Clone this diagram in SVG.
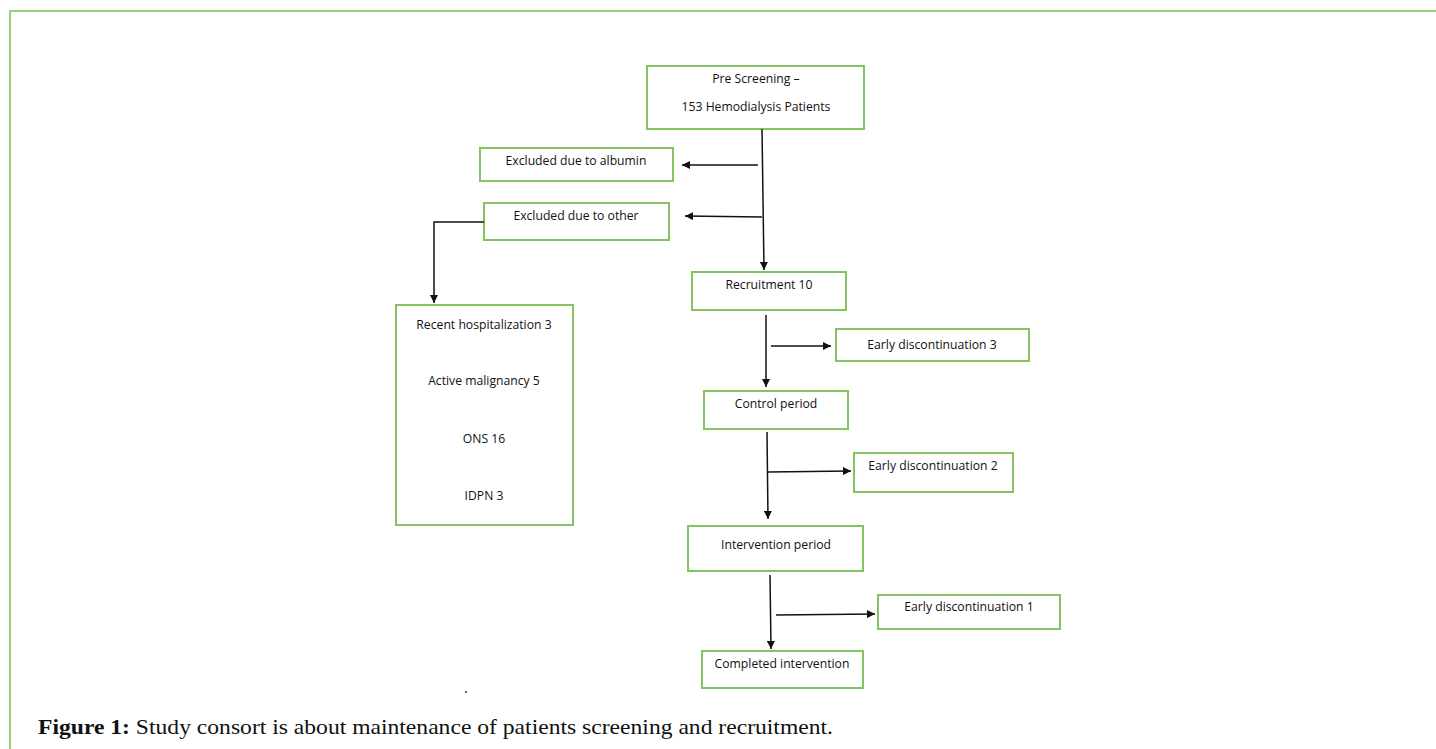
<svg xmlns="http://www.w3.org/2000/svg" width="1436" height="749" viewBox="0 0 1436 749">
<style>
.box{fill:#fff;stroke:#84c262;stroke-width:2}
.t{font-family:"Open Sans","Liberation Sans",sans-serif;font-size:12.2px;fill:#111;text-anchor:middle}
.c{stroke:#111;stroke-width:1.5;fill:none}
.frame{stroke:#7cbf5a;stroke-width:1.5;fill:none}
.cap{font-family:"Liberation Serif",serif;font-size:21px;fill:#111}
</style>
<defs>
<marker id="ah" viewBox="0 0 10 10" refX="10" refY="5" markerWidth="8" markerHeight="8" markerUnits="userSpaceOnUse" orient="auto">
<path d="M0,0 L10,5 L0,10 z" fill="#111"/>
</marker>
</defs>
<rect width="1436" height="749" fill="#fff"/>
<path class="frame" d="M10,749 V11 H1436"/>

<g id="n-prescreening"><rect class="box" x="647" y="66" width="217" height="63"/>
<text class="t" x="756" y="83">Pre Screening –</text>
<text class="t" x="756" y="111">153 Hemodialysis Patients</text></g>
<g id="n-albumin"><rect class="box" x="480" y="148" width="193" height="33"/>
<text class="t" x="576" y="165">Excluded due to albumin</text></g>
<g id="n-other"><rect class="box" x="484" y="203" width="185" height="37"/>
<text class="t" x="576" y="220">Excluded due to other</text></g>
<g id="n-reasons"><rect class="box" x="396" y="305" width="177" height="220"/>
<text class="t" x="484" y="329">Recent hospitalization 3</text>
<text class="t" x="484" y="385">Active malignancy 5</text>
<text class="t" x="484" y="443">ONS 16</text>
<text class="t" x="484" y="500">IDPN 3</text></g>
<g id="n-recruit"><rect class="box" x="692" y="272" width="154" height="38"/>
<text class="t" x="769" y="289">Recruitment 10</text></g>
<g id="n-ed3"><rect class="box" x="836" y="329" width="193" height="32"/>
<text class="t" x="932" y="349">Early discontinuation 3</text></g>
<g id="n-control"><rect class="box" x="704" y="391" width="144" height="38"/>
<text class="t" x="776" y="408">Control period</text></g>
<g id="n-ed2"><rect class="box" x="854" y="453" width="159" height="39"/>
<text class="t" x="933" y="470">Early discontinuation 2</text></g>
<g id="n-intervention"><rect class="box" x="688" y="526" width="175" height="45"/>
<text class="t" x="776" y="549">Intervention period</text></g>
<g id="n-ed1"><rect class="box" x="878" y="595" width="182" height="34"/>
<text class="t" x="969" y="611">Early discontinuation 1</text></g>
<g id="n-completed"><rect class="box" x="702" y="651" width="161" height="37"/>
<text class="t" x="782" y="668">Completed intervention</text></g>

<g id="connectors">
<path class="c" d="M762,129 L764,270" marker-end="url(#ah)"/>
<path class="c" d="M758,165 L682,165" marker-end="url(#ah)"/>
<path class="c" d="M762,217 L685,216" marker-end="url(#ah)"/>
<path class="c" d="M484,222 H434 V303" marker-end="url(#ah)"/>
<path class="c" d="M766,315 L766,387" marker-end="url(#ah)"/>
<path class="c" d="M771,346 L831,346" marker-end="url(#ah)"/>
<path class="c" d="M767,432 L768,519" marker-end="url(#ah)"/>
<path class="c" d="M768,472 L851,471" marker-end="url(#ah)"/>
<path class="c" d="M770,575 L771,649" marker-end="url(#ah)"/>
<path class="c" d="M776,615 L875,614" marker-end="url(#ah)"/>
</g>
<circle cx="466" cy="692" r="1" fill="#333"/>
<text class="cap" x="38" y="734" textLength="795" lengthAdjust="spacingAndGlyphs"><tspan font-weight="bold">Figure 1:</tspan> Study consort is about maintenance of patients screening and recruitment.</text>
</svg>
